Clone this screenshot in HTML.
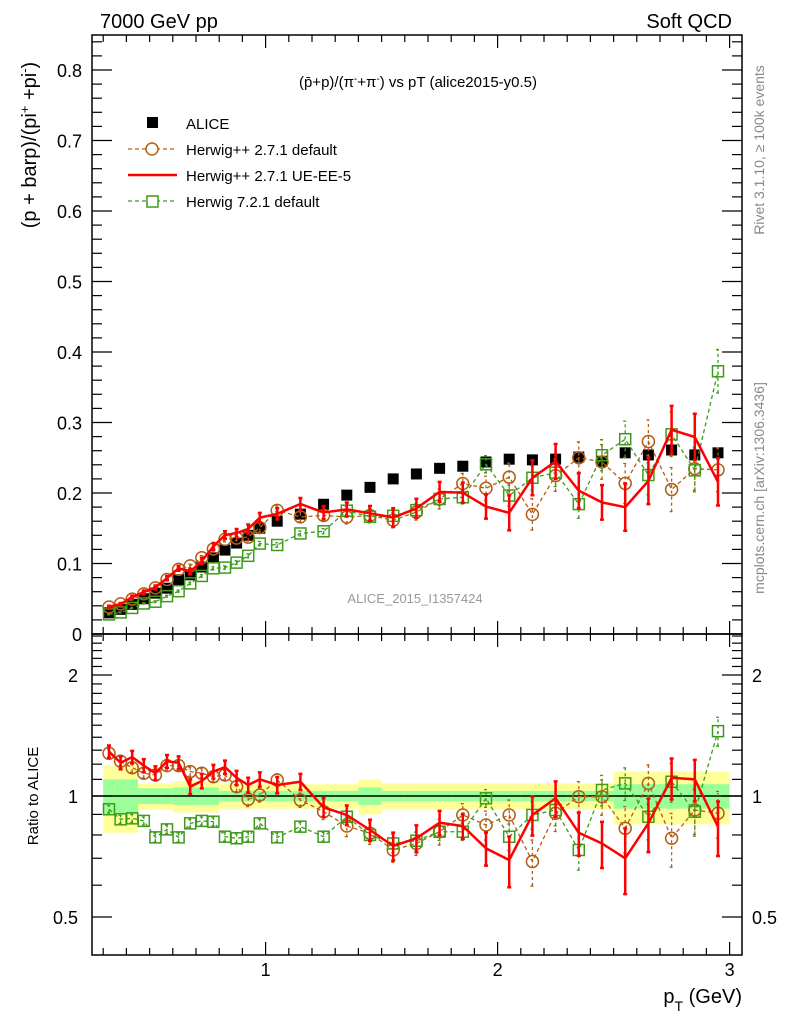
<!DOCTYPE html>
<html><head><meta charset="utf-8"><style>
html,body{margin:0;padding:0;background:#fff;}
svg{display:block;font-family:"Liberation Sans",sans-serif;}
</style></head><body>
<svg id="c" width="786" height="1024" viewBox="0 0 786 1024" xmlns="http://www.w3.org/2000/svg">
<defs>
<clipPath id="cm"><rect x="92" y="35" width="650" height="599"/></clipPath>
<clipPath id="cr"><rect x="92" y="634" width="650" height="321"/></clipPath>
</defs>
<g id="bands" clip-path="url(#cr)"></g>
<g id="ticks"></g>
<line x1="92" y1="796" x2="742" y2="796" stroke="#000" stroke-width="1.5"/>
<g id="main" clip-path="url(#cm)"></g>
<g id="ratio" clip-path="url(#cr)"></g>
<rect x="92" y="35" width="650" height="599" fill="none" stroke="#000" stroke-width="1.5"/>
<rect x="92" y="634" width="650" height="321" fill="none" stroke="#000" stroke-width="1.5"/>
<g id="labels" font-size="18"></g>
<text x="100" y="28" font-size="20">7000 GeV pp</text>
<text x="732" y="28" font-size="20" text-anchor="end">Soft QCD</text>
<text x="418" y="87" font-size="15" text-anchor="middle">(p&#772;+p)/(π<tspan baseline-shift="super" font-size="10">-</tspan>+π<tspan baseline-shift="super" font-size="10">-</tspan>) vs pT (alice2015-y0.5)</text>
<text transform="translate(36,145) rotate(-90)" font-size="20" text-anchor="middle">(p + barp)/(pi<tspan baseline-shift="super" font-size="13">+</tspan> +pi<tspan baseline-shift="super" font-size="13">-</tspan>)</text>
<text transform="translate(38,796) rotate(-90)" font-size="15" text-anchor="middle">Ratio to ALICE</text>
<text x="742" y="1003" font-size="20" text-anchor="end">p<tspan baseline-shift="sub" font-size="14">T</tspan> (GeV)</text>
<text transform="translate(764,150) rotate(-90)" font-size="14" fill="#888" text-anchor="middle">Rivet 3.1.10, ≥ 100k events</text>
<text transform="translate(764,488) rotate(-90)" font-size="14" fill="#888" text-anchor="middle">mcplots.cern.ch [arXiv:1306.3436]</text>
<text x="415" y="603" font-size="13" fill="#999" text-anchor="middle">ALICE_2015_I1357424</text>
<g id="legend" font-size="15">
<rect x="147" y="117" width="11" height="11" fill="#000"/>
<text x="186" y="129">ALICE</text>
<line x1="128" y1="149" x2="177" y2="149" stroke="#b25e14" stroke-width="1.3" stroke-dasharray="4,3"/>
<circle cx="152" cy="149" r="6" fill="#fff" stroke="#b25e14" stroke-width="1.5"/>
<text x="186" y="155">Herwig++ 2.7.1 default</text>
<line x1="128" y1="175" x2="177" y2="175" stroke="#f00" stroke-width="2.5"/>
<text x="186" y="181">Herwig++ 2.7.1 UE-EE-5</text>
<line x1="128" y1="201" x2="177" y2="201" stroke="#3f9a1a" stroke-width="1.3" stroke-dasharray="4,3"/>
<rect x="147" y="196" width="11" height="11" fill="#fff" stroke="#3f9a1a" stroke-width="1.5"/>
<text x="186" y="207">Herwig 7.2.1 default</text>
</g>
</svg>
<script>
const pT = [0.325,0.375,0.425,0.475,0.525,0.575,0.625,0.675,0.725,0.775,0.825,0.875,0.925,0.975,
1.05,1.15,1.25,1.35,1.45,1.55,1.65,1.75,1.85,1.95,2.05,2.15,2.25,2.35,2.45,2.55,2.65,2.75,2.85,2.95];
const binLo = [0.3,0.35,0.4,0.45,0.5,0.55,0.6,0.65,0.7,0.75,0.8,0.85,0.9,0.95,
1.0,1.1,1.2,1.3,1.4,1.5,1.6,1.7,1.8,1.9,2.0,2.1,2.2,2.3,2.4,2.5,2.6,2.7,2.8,2.9];
const binHi = [0.35,0.4,0.45,0.5,0.55,0.6,0.65,0.7,0.75,0.8,0.85,0.9,0.95,1.0,
1.1,1.2,1.3,1.4,1.5,1.6,1.7,1.8,1.9,2.0,2.1,2.2,2.3,2.4,2.5,2.6,2.7,2.8,2.9,3.0];
const alice = [0.030,0.035,0.042,0.050,0.058,0.065,0.077,0.084,0.095,0.108,0.119,0.129,0.140,0.150,
0.160,0.170,0.184,0.197,0.208,0.220,0.227,0.235,0.238,0.244,0.248,0.247,0.248,0.251,0.245,0.257,0.254,0.261,0.254,0.257];
const ratioUE = [1.29,1.21,1.25,1.19,1.14,1.22,1.21,1.055,1.09,1.15,1.18,1.11,1.065,1.10,
1.065,1.085,0.937,0.897,0.823,0.751,0.785,0.858,0.842,0.741,0.693,0.897,0.987,0.810,0.762,0.700,0.855,1.11,1.10,0.839];
const errUE = [0.045,0.045,0.045,0.045,0.045,0.045,0.045,0.045,0.045,0.045,0.045,0.045,0.045,0.045,
0.05,0.05,0.05,0.05,0.05,0.06,0.06,0.06,0.06,0.07,0.1,0.1,0.1,0.1,0.1,0.13,0.13,0.13,0.13,0.13];
const ratioDef = [1.277,1.22,1.176,1.139,1.128,1.19,1.19,1.15,1.139,1.117,1.128,1.055,0.981,1.006,
1.096,0.977,0.914,0.842,0.808,0.734,0.762,0.815,0.897,0.847,0.897,0.687,0.906,0.996,0.996,0.831,1.075,0.785,0.923,0.906];
const errDef = [0.03,0.03,0.03,0.03,0.03,0.03,0.03,0.03,0.03,0.03,0.03,0.03,0.04,0.04,
0.04,0.04,0.04,0.05,0.05,0.05,0.05,0.06,0.06,0.07,0.08,0.09,0.09,0.09,0.1,0.11,0.12,0.12,0.12,0.12];
const ratioH7 = [0.927,0.875,0.880,0.867,0.789,0.826,0.789,0.855,0.867,0.863,0.792,0.785,0.792,0.855,
0.789,0.839,0.792,0.888,0.80,0.762,0.774,0.815,0.815,0.987,0.792,0.897,0.923,0.734,1.035,1.075,0.888,1.085,0.914,1.45];
const errH7 = [0.02,0.02,0.02,0.02,0.02,0.02,0.02,0.02,0.02,0.02,0.02,0.02,0.02,0.02,
0.02,0.02,0.02,0.03,0.03,0.04,0.04,0.04,0.04,0.05,0.06,0.07,0.08,0.08,0.09,0.1,0.11,0.12,0.12,0.12];
const bandTot = [0.19,0.19,0.19,0.075,0.075,0.075,0.09,0.09,0.09,0.09,0.07,0.07,0.07,0.07,
0.07,0.07,0.07,0.07,0.10,0.075,0.075,0.075,0.075,0.075,0.075,0.075,0.075,0.075,0.075,0.15,0.15,0.15,0.15,0.15];
const bandStat = [0.10,0.10,0.10,0.045,0.045,0.045,0.05,0.05,0.05,0.05,0.03,0.03,0.03,0.03,
0.03,0.03,0.03,0.03,0.05,0.03,0.03,0.03,0.03,0.03,0.03,0.03,0.03,0.03,0.03,0.07,0.07,0.07,0.07,0.07];
const mainTicks = [0,0.1,0.2,0.3,0.4,0.5,0.6,0.7,0.8];
const mainTickLabels = ["0","0.1","0.2","0.3","0.4","0.5","0.6","0.7","0.8"];
const ratioMajor = [0.5,1,2];
const ratioMajorLabels = ["0.5","1","2"];
const xMajor = [1,2,3];
const xMajorLabels = ["1","2","3"];

const NS="http://www.w3.org/2000/svg";
const X=p=>33.6+232*p;
const Ym=v=>634-705*v;
const Yr=r=>796-402*Math.log10(r);
function mk(parent,tag,attrs){const e=document.createElementNS(NS,tag);for(const k in attrs)e.setAttribute(k,attrs[k]);parent.appendChild(e);return e;}

// bands
const gB=document.getElementById('bands');
for(let i=0;i<pT.length;i++){
  let r=mk(gB,'rect',{x:X(binLo[i]),width:X(binHi[i])-X(binLo[i]),y:Yr(1+bandTot[i]),height:Yr(1-bandTot[i])-Yr(1+bandTot[i]),fill:'#ffff99'});
  
  
  let s=mk(gB,'rect',{x:X(binLo[i]),width:X(binHi[i])-X(binLo[i]),y:Yr(1+bandStat[i]),height:Yr(1-bandStat[i])-Yr(1+bandStat[i]),fill:'#99ff99'});
  
  
}

// ticks
const gT=document.getElementById('ticks');
function tk(x1,y1,x2,y2){const l=mk(gT,'line',{x1,y1,x2,y2,stroke:'#000','stroke-width':1.2});}
for(let k=3;k<=30;k++){const p=k/10;const x=X(p);const big=(k%10===0);const L=big?13:7;
  tk(x,955,x,955-L);tk(x,634,x,634-L);tk(x,634,x,634+L);tk(x,35,x,35+L);}
for(let k=0;k<=42;k++){const v=k*0.02;if(v>0.85)break;const y=Ym(v);const big=(k%5===0);const L=big?20:10;
  tk(92,y,92+L,y);tk(742,y,742-L,y);}
for(let k=4;k<=25;k++){const r=k/10;const y=Yr(r);const big=(k===5||k===10||k===20);const L=big?20:10;
  if(y<634||y>955)continue;tk(92,y,92+L,y);tk(742,y,742-L,y);}

// labels
const gL=document.getElementById('labels');
mainTicks.forEach((v,i)=>{const t=mk(gL,'text',{x:82,y:Ym(v)+7,'text-anchor':'end'});t.textContent=mainTickLabels[i];
  });
ratioMajor.forEach((v,i)=>{const t=mk(gL,'text',{x:78,y:Yr(v)+7,'text-anchor':'end'});t.textContent=ratioMajorLabels[i];
  
  const t2=mk(gL,'text',{x:752,y:Yr(v)+7,'text-anchor':'start'});t2.textContent=ratioMajorLabels[i];
  });
xMajor.forEach((v,i)=>{const t=mk(gL,'text',{x:X(v),y:976,'text-anchor':'middle'});t.textContent=xMajorLabels[i];
  });

// series
function series(g,Y,vals,errs,color,style,name){
  const pts=vals.map((v,i)=>X(pT[i])+','+Y(v)).join(' ');
  const attrs={points:pts,fill:'none',stroke:color,'stroke-width':style==='line'?2.5:1.3};
  if(style!=='line')attrs['stroke-dasharray']='4,3';
  const pl=mk(g,'polyline',attrs);
  
  
  vals.forEach((v,i)=>{
    const x=X(pT[i]);const y1=Y(errs[i][0]),y2=Y(errs[i][1]);
    const eb=mk(g,'path',{d:`M${x},${y1}V${y2}M${x-2},${y1}H${x+2}M${x-2},${y2}H${x+2}`,stroke:color,'stroke-width':style==='line'?2.5:1.3,fill:'none','stroke-dasharray':style==='line'?'none':'3,3'});
    
    
    const y=Y(v);let m;
    if(style==='circle')m=mk(g,'circle',{cx:x,cy:y,r:6,fill:'none',stroke:color,'stroke-width':1.5});
    else if(style==='square')m=mk(g,'rect',{x:x-5.5,y:y-5.5,width:11,height:11,fill:'none',stroke:color,'stroke-width':1.5});
    if(m){}
  });
}
const gM=document.getElementById('main'),gR=document.getElementById('ratio');
const defs=[[ratioDef,errDef,'#b25e14','circle','herwigpp-default'],[ratioH7,errH7,'#3f9a1a','square','herwig7-default'],[ratioUE,errUE,'#ff0000','line','herwigpp-ue-ee-5']];
// alice squares in main
alice.forEach((v,i)=>{const r=mk(gM,'rect',{x:X(pT[i])-5.5,y:Ym(v)-5.5,width:11,height:11,fill:'#000'});
  });
defs.forEach(([rv,er,c,st,nm])=>{
  const mv=rv.map((r,i)=>r*alice[i]);
  series(gM,Ym,mv,rv.map((r,i)=>[(r-er[i])*alice[i],(r+er[i])*alice[i]]),c,st,nm);
  series(gR,Yr,rv,rv.map((r,i)=>[r-er[i],r+er[i]]),c,st,nm+'-ratio');
});
</script>
</body></html>
